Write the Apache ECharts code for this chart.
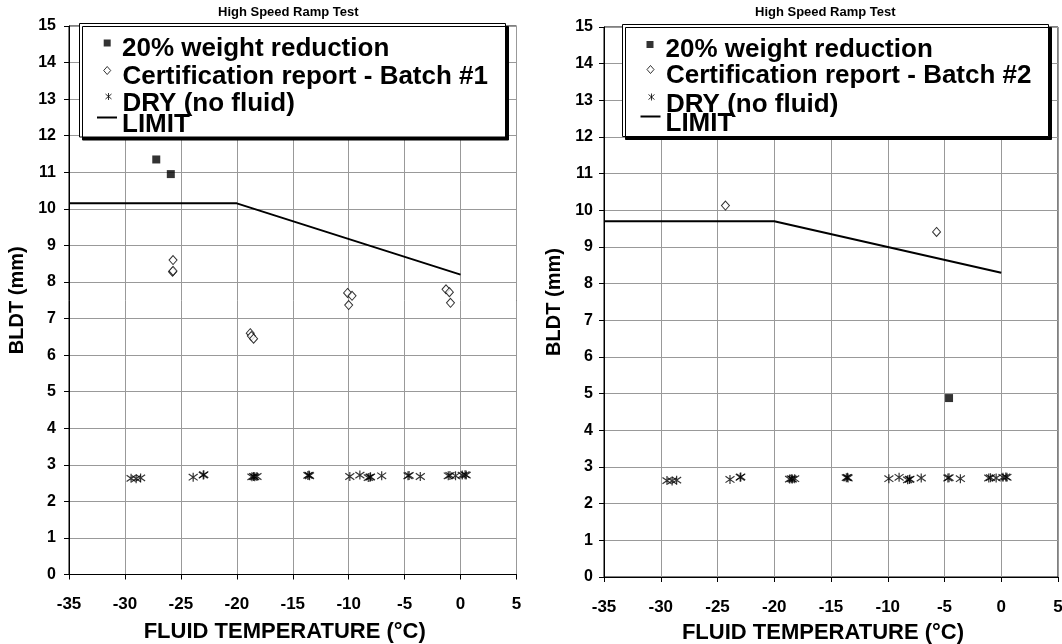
<!DOCTYPE html>
<html><head><meta charset="utf-8">
<script src="https://cdn.jsdelivr.net/npm/echarts@6/dist/echarts.min.js"></script>
<style>
html,body{margin:0;padding:0;background:#fff}
#c1{position:absolute;left:0;top:0;width:531px;height:644px}
#c2{position:absolute;left:531px;top:0;width:531px;height:644px}
</style>
</head><body><div id="c1"></div><div id="c2"></div>
<script>
// ---------- data ----------
const chartTitle = 'High Speed Ramp Test';
const xAxisName = 'FLUID TEMPERATURE (°C)';
const yAxisName = 'BLDT (mm)';
const nameWeight = '20% weight reduction';
const nameCert1 = 'Certification report - Batch #1';
const nameCert2 = 'Certification report - Batch #2';
const nameDry = 'DRY (no fluid)';
const nameLimit = 'LIMIT';

// DRY (no fluid) — same runs in both charts
const dryTemp = [-29.45, -29.0, -28.6, -23.9, -23.0, -22.95, -18.65, -18.5, -18.4, -18.2,
  -13.65, -13.55, -13.5, -9.9, -9.0, -8.25, -8.1, -8.05, -7.05, -4.7, -4.6, -3.6,
  -1.1, -0.95, -0.45, 0.15, 0.4, 0.5];
const dryBldt = [2.63, 2.62, 2.64, 2.66, 2.72, 2.73, 2.67, 2.68, 2.67, 2.68,
  2.71, 2.72, 2.70, 2.68, 2.72, 2.65, 2.66, 2.67, 2.70, 2.70, 2.71, 2.68,
  2.70, 2.71, 2.70, 2.72, 2.73, 2.72];

// Left chart (Batch #1)
const leftWeightTemp = [-27.2, -25.9];
const leftWeightBldt = [11.35, 10.95];
const leftCertTemp = [-25.7, -25.75, -25.7, -18.8, -18.7, -18.5, -10.1, -9.7, -10.0, -1.3, -1.0, -0.9];
const leftCertBldt = [8.6, 8.28, 8.3, 6.6, 6.52, 6.45, 7.7, 7.62, 7.37, 7.8, 7.72, 7.43];
const leftLimitTemp = [-35, -20, 0];
const leftLimitBldt = [10.15, 10.15, 8.2];

// Right chart (Batch #2)
const rightWeightTemp = [-4.6];
const rightWeightBldt = [4.88];
const rightCertTemp = [-24.3, -5.7];
const rightCertBldt = [10.13, 9.41];
const rightLimitTemp = [-35, -20, 0];
const rightLimitBldt = [9.7, 9.7, 8.3];

// axis ranges
const xMin = -35, xMax = 5, xStep = 5;
const yMin = 0, yMax = 15, yStep = 1;

// ---------- helpers ----------
const FONT = '"Liberation Sans", Arial, sans-serif';
const STAR = 'path://M5,0L5,10M0,1.5L10,8.5M0,8.5L10,1.5';
const zip = (a, b) => a.map((v, i) => [v, b[i]]);

// legend icons drawn inside a 20x26 box (the leading moves fix the box)
const BOX = 'path://M0,0M20,26';
const iconSquare = (cx, cy) => `${BOX}M${cx-3.5},${cy-3.5}L${cx+3.5},${cy-3.5}L${cx+3.5},${cy+3.5}L${cx-3.5},${cy+3.5}Z`;
const iconDiamond = (cx, cy) => `${BOX}M${cx},${cy-4}L${cx+3.5},${cy}L${cx},${cy+4}L${cx-3.5},${cy}Z`;
const iconStar = (cx, cy) => `${BOX}M${cx},${cy-3.5}L${cx},${cy+3.5}M${cx-3},${cy-2.5}L${cx+3},${cy+2.5}M${cx-3},${cy+2.5}L${cx+3},${cy-2.5}`;
const iconLine = (cy) => `${BOX}M0,${cy-1}L20,${cy-1}L20,${cy+1}L0,${cy+1}Z`;

function makeOption(c) {
  const L = c.lg;
  const legendText = {fontFamily: FONT, fontWeight: 'bold', fontSize: 26, color: '#000', lineHeight: 26};
  const legendBase = {padding: 0, itemWidth: 20, itemHeight: 26, itemGap: 0, selectedMode: false, z: 10,
    left: L.x, textStyle: legendText};
  const ic = L.icon;
  return {
    animation: false,
    backgroundColor: '#fff',
    title: {
      text: chartTitle, left: c.titleLeft, top: 6, padding: 0,
      textStyle: {fontFamily: FONT, fontWeight: 'bold', fontSize: 13, color: '#000'}
    },
    grid: {left: c.grid.left, right: c.grid.right, top: c.grid.top, bottom: c.grid.bottom,
      containLabel: false, outerBoundsMode: 'none',
      show: true, borderColor: '#000', borderWidth: 1, backgroundColor: 'transparent'},
    graphic: [{
      type: 'rect', z: 5, left: L.box[0], top: L.box[1],
      shape: {width: L.box[2], height: L.box[3]},
      style: {fill: '#fff', stroke: '#000', lineWidth: 1,
        shadowColor: '#000', shadowOffsetX: 3, shadowOffsetY: 3, shadowBlur: 0}
    }],
    legend: [
      Object.assign({}, legendBase, {top: L.tops[0],
        data: [{name: nameWeight, icon: iconSquare(ic.sx, ic.sy), itemStyle: {color: '#000', borderWidth: 0}}]}),
      Object.assign({}, legendBase, {top: L.tops[1],
        data: [{name: c.certName, icon: iconDiamond(ic.dx, ic.dy), itemStyle: {color: '#fff', borderColor: '#000', borderWidth: 1}}]}),
      Object.assign({}, legendBase, {top: L.tops[2],
        data: [{name: nameDry, icon: iconStar(ic.tx, ic.ty), itemStyle: {color: 'rgba(0,0,0,0)', borderColor: '#000', borderWidth: 1}}]}),
      Object.assign({}, legendBase, {top: L.tops[3],
        data: [{name: nameLimit, icon: iconLine(ic.ly), itemStyle: {color: '#000', borderWidth: 0}}]})
    ],
    xAxis: {
      type: 'value', min: xMin, max: xMax, interval: xStep,
      name: xAxisName, nameLocation: 'middle', nameGap: c.xNameGap,
      nameTextStyle: {fontFamily: FONT, fontWeight: 'bold', fontSize: 22, color: '#000', padding: [0, 16, 0, 0]},
      axisLine: {show: true, onZero: false, lineStyle: {color: '#000', width: 1}},
      axisTick: {show: true, inside: false, length: 5, lineStyle: {color: '#000'}},
      axisLabel: {fontFamily: FONT, fontWeight: 'bold', fontSize: 17, color: '#000', margin: 21.5},
      splitLine: {show: true, lineStyle: {color: '#999', width: 1}}
    },
    yAxis: {
      type: 'value', min: yMin, max: yMax, interval: yStep,
      name: yAxisName, nameLocation: 'middle', nameGap: c.yNameGap, nameRotate: 90,
      nameTextStyle: {fontFamily: FONT, fontWeight: 'bold', fontSize: 20, color: '#000'},
      axisLine: {show: true, onZero: false, lineStyle: {color: '#000', width: 1}},
      axisTick: {show: true, inside: false, length: 5, lineStyle: {color: '#000'}},
      axisLabel: {fontFamily: FONT, fontWeight: 'bold', fontSize: 16, color: '#000', margin: c.yLabelMargin},
      splitLine: {show: true, lineStyle: {color: '#999', width: 1}}
    },
    series: [
      {name: nameLimit, type: 'line', data: zip(c.limitT, c.limitB), symbol: 'none',
        lineStyle: {color: '#000', width: 2}, itemStyle: {color: '#000'}, z: 3, silent: true},
      {name: nameDry, type: 'scatter', data: zip(dryTemp, dryBldt), symbol: STAR, symbolSize: 9,
        itemStyle: {color: 'rgba(0,0,0,0)', borderColor: '#000', borderWidth: 1.2}, z: 4, silent: true},
      {name: c.certName, type: 'scatter', data: zip(c.certT, c.certB), symbol: 'diamond', symbolSize: [8, 9],
        itemStyle: {color: '#fff', borderColor: '#000', borderWidth: 1}, z: 4, silent: true},
      {name: nameWeight, type: 'scatter', data: zip(c.weightT, c.weightB), symbol: 'rect', symbolSize: 8,
        itemStyle: {color: '#000'}, z: 4, silent: true}
    ]
  };
}

const leftCfg = {
  certName: nameCert1,
  weightT: leftWeightTemp, weightB: leftWeightBldt,
  certT: leftCertTemp, certB: leftCertBldt,
  limitT: leftLimitTemp, limitB: leftLimitBldt,
  grid: {left: 69, right: 14.5, top: 26, bottom: 69.5},
  titleLeft: 218, xNameGap: 46.5, yNameGap: 42, yLabelMargin: 13,
  lg: {box: [79, 23, 426, 113.5], x: 97, tops: [35.5, 63, 90.5, 112],
    icon: {sx: 10.2, sy: 7.5, dx: 9.7, dy: 7, tx: 11, ty: 5.5, ly: 5.5}}
};
const rightCfg = {
  certName: nameCert2,
  weightT: rightWeightTemp, weightB: rightWeightBldt,
  certT: rightCertTemp, certB: rightCertBldt,
  limitT: rightLimitTemp, limitB: rightLimitBldt,
  grid: {left: 73, right: 4, top: 27, bottom: 67},
  titleLeft: 224, xNameGap: 45, yNameGap: 36, yLabelMargin: 11,
  lg: {box: [91, 24, 426, 112], x: 109.5, tops: [37, 62, 91, 111],
    icon: {sx: 9.5, sy: 7.5, dx: 9.5, dy: 7, tx: 10.5, ty: 5.5, ly: 5.5}}
};

echarts.init(document.getElementById('c1'), null, {renderer: 'canvas'}).setOption(makeOption(leftCfg));
echarts.init(document.getElementById('c2'), null, {renderer: 'canvas'}).setOption(makeOption(rightCfg));
</script>
</body></html>
